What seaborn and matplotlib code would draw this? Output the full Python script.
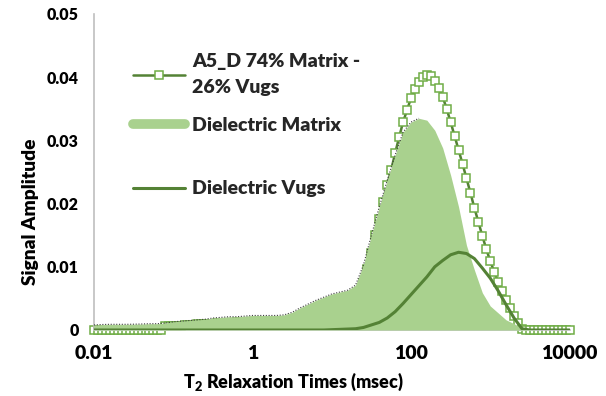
import numpy as np
import matplotlib
matplotlib.use("Agg")
import matplotlib.pyplot as plt
import seaborn as sns
from matplotlib.lines import Line2D

# T2 bins (msec): combined spectrum at 20 bins/decade, dielectric split at 10 bins/decade
t2_fine = np.logspace(-2, 4, 121)
t2_coarse = np.logspace(-2, 4, 61)

# Combined A5_D spectrum (74% matrix - 26% vugs)
a5d = [
    0, 0, 0, 0, 0, 0, 0, 0, 0, 0,
    0, 0, 0, 0, 0, 0, 0, 0,
    0.0006, 0.0006, 0.0007, 0.0007, 0.0007, 0.0008, 0.0008, 0.0008, 0.0009, 0.0009,
    0.0009, 0.0010, 0.0010, 0.0011, 0.0011, 0.0011, 0.0011, 0.0011, 0.0012, 0.0012,
    0.0012, 0.0012, 0.0012, 0.0012, 0.0012, 0.0012, 0.0012, 0.0012, 0.0012, 0.0012,
    0.0013, 0.0014, 0.0016, 0.0018, 0.0020, 0.0022, 0.0024, 0.0026, 0.0028, 0.0030,
    0.0031, 0.0032, 0.0033, 0.0034, 0.0035, 0.0036, 0.0038, 0.0042, 0.0048, 0.0058,
    0.0074, 0.0096, 0.0122, 0.0150, 0.0176, 0.0203, 0.0230, 0.0253, 0.0280, 0.0305,
    0.0329, 0.0348, 0.0367, 0.0381, 0.0392, 0.0400, 0.0403, 0.0402, 0.0394, 0.0383,
    0.0369, 0.0350, 0.0329, 0.0307, 0.0285, 0.0263, 0.0240, 0.0217, 0.0193, 0.0171,
    0.0149, 0.0128, 0.0109, 0.0092, 0.0076, 0.0062, 0.0047, 0.0035, 0.0022, 0.0011,
    0.0002, 0, 0, 0, 0, 0, 0, 0, 0, 0,
    0, 0, 0,
]

# Dielectric matrix component
matrix = [
    0.0008, 0.00087, 0.0009, 0.0009, 0.0009, 0.00092, 0.00095, 0.0010, 0.0010, 0.0011,
    0.0013, 0.0014, 0.0015, 0.0016, 0.0017, 0.0019, 0.0020, 0.0021, 0.0021, 0.0022,
    0.0023, 0.0023, 0.0023, 0.0023, 0.0024, 0.0028, 0.0035, 0.0041, 0.0047, 0.0052,
    0.0057, 0.0060, 0.0063, 0.0071, 0.0103, 0.0150, 0.0195, 0.0237, 0.0277, 0.0313,
    0.0329, 0.0335, 0.0332, 0.0316, 0.0288, 0.0245, 0.0195, 0.0134, 0.0095, 0.0059,
    0.0038, 0.0027, 0.0016, 0.0010, 0.0003, 0.0001, 0, 0, 0, 0,
    0,
]

# Dielectric vug component
vugs = [
    0, 0, 0, 0, 0, 0, 0, 0, 0, 0,
    0, 0, 0, 0, 0, 0, 0, 0, 0, 0,
    0, 0, 0, 0, 0, 0, 0, 0, 0, 0,
    0.00005, 0.0001, 0.00015, 0.0002, 0.0004, 0.0008, 0.0012, 0.0019, 0.0029, 0.0042,
    0.0056, 0.0070, 0.0084, 0.0100, 0.0110, 0.0119, 0.0123, 0.0121, 0.0113, 0.0098,
    0.0082, 0.0062, 0.0040, 0.0019, 0.0002, 0, 0, 0, 0, 0,
    0,
]

series_labels = ["A5_D 74% Matrix -\n26% Vugs", "Dielectric Matrix", "Dielectric Vugs"]
xtick_values = [0.01, 1, 100, 10000]
xtick_labels = ["0.01", "1", "100", "10000"]
ytick_values = [0, 0.01, 0.02, 0.03, 0.04, 0.05]
ytick_labels = ["0", "0.01", "0.02", "0.03", "0.04", "0.05"]

DARK = "#548235"
MID = "#70ad47"
LIGHT = "#a9d18e"
AXIS = "#bfbfbf"
WEIGHT = "heavy"

sns.set_theme(style="white")
plt.rcParams["font.family"] = ["Lato", "DejaVu Sans"]
plt.rcParams["mathtext.fontset"] = "custom"
plt.rcParams["mathtext.rm"] = "Lato:heavy"
plt.rcParams["mathtext.bf"] = "Lato:heavy"
plt.rcParams["mathtext.it"] = "Lato:heavy"

fig = plt.figure(figsize=(6.06, 3.96), dpi=100)
ax = fig.add_axes([94 / 606, 1 - 330 / 396, 475.5 / 606, 316 / 396])
ax.set_xscale("log")

# combined spectrum sits underneath the matrix area
sns.lineplot(x=t2_fine, y=a5d, ax=ax, color=DARK, lw=1.8, marker="s", markersize=5.5,
             markerfacecolor="white", markeredgecolor=MID, markeredgewidth=1.1,
             zorder=2, clip_on=False, legend=False)

ax.fill_between(t2_coarse, 0, matrix, color=LIGHT, lw=0, zorder=3)
peak = int(np.argmax(matrix))
ax.plot(t2_coarse[:peak + 1], matrix[:peak + 1], ls=(0, (1, 1.5)), color="#404040",
        lw=0.8, zorder=3.5)

sns.lineplot(x=t2_coarse, y=vugs, ax=ax, color=DARK, lw=2.2, zorder=4, legend=False)

ax.set_xlim(0.01, 10000)
ax.set_ylim(0, 0.05)
ax.set_xticks(xtick_values)
ax.set_xticklabels(xtick_labels)
ax.minorticks_off()
ax.set_yticks(ytick_values)
ax.set_yticklabels(ytick_labels)
ax.tick_params(axis="x", direction="out", length=5, width=1, color=AXIS, pad=6,
               labelsize=14)
ax.tick_params(axis="y", direction="out", length=5, width=1, color=AXIS, pad=6,
               labelsize=11.5)
for lab in ax.get_xticklabels() + ax.get_yticklabels():
    lab.set_fontweight(WEIGHT)
    lab.set_color("black")

for side in ("top", "right"):
    ax.spines[side].set_visible(False)
for side in ("left", "bottom"):
    ax.spines[side].set_color(AXIS)
    ax.spines[side].set_linewidth(1.2)

ax.set_xlabel(r"T$_2$ Relaxation Times (msec)", fontsize=13, fontweight=WEIGHT,
              color="black")
ax.xaxis.set_label_coords(0.42, -0.13)
ax.set_ylabel("Signal Amplitude", fontsize=13.8, fontweight=WEIGHT, color="black")
ax.yaxis.set_label_coords(-0.115, 0.373)

handles = [
    Line2D([], [], color=DARK, lw=1.8, marker="s", markersize=5.5, markerfacecolor="white",
           markeredgecolor=MID, markeredgewidth=1.1),
    Line2D([], [], color=LIGHT, lw=7, solid_capstyle="round"),
    Line2D([], [], color=DARK, lw=2.2),
]
legend_kw = dict(loc="upper left", frameon=False, handlelength=2.7, handletextpad=0.35,
                 borderpad=0, borderaxespad=0, prop=dict(weight=WEIGHT, size=14))
leg1 = ax.legend(handles[:1], series_labels[:1], bbox_to_anchor=(0.082, 0.875), **legend_kw)
leg1.get_texts()[0].set_linespacing(1.6)
ax.add_artist(leg1)
ax.legend(handles[1:], series_labels[1:], bbox_to_anchor=(0.082, 0.675),
          labelspacing=2.4, **legend_kw)

fig.savefig("out.png", dpi=100, facecolor="white")
